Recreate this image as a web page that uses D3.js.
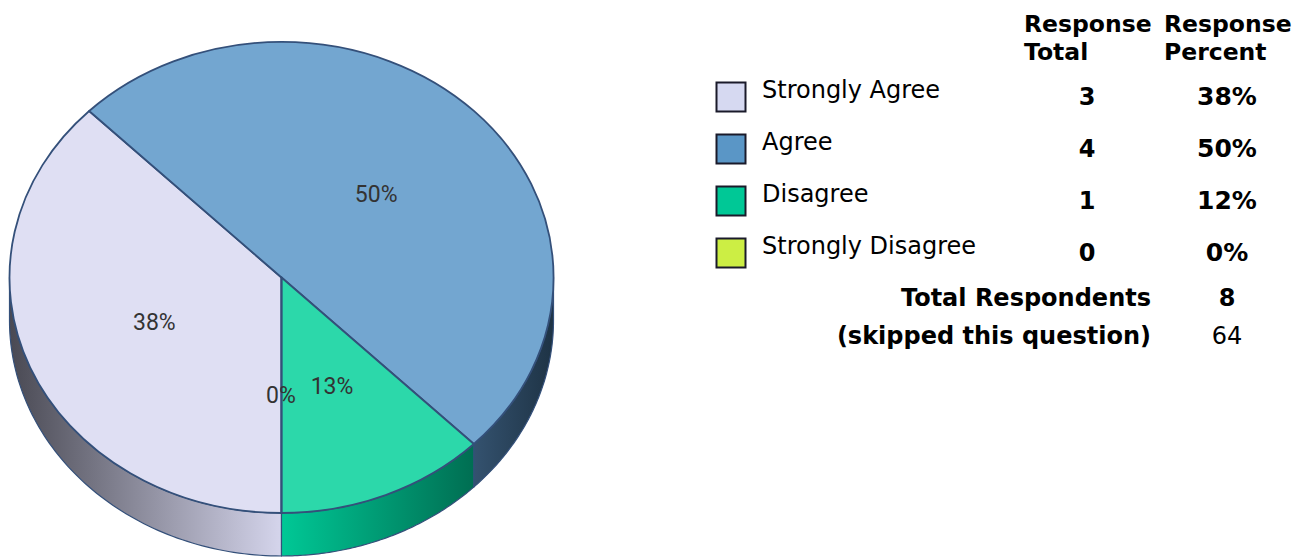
<!DOCTYPE html>
<html><head><meta charset="utf-8">
<script src="https://cdn.jsdelivr.net/npm/d3@7/dist/d3.min.js"></script>
<style>html,body{margin:0;padding:0;background:#fff;overflow:hidden}svg{display:block}</style>
</head><body><div id="c"></div>
<script>
const categories=["Strongly Agree","Agree","Disagree","Strongly Disagree"];
const responseTotals=[3,4,1,0];
const responsePercents=["38%","50%","12%","0%"];
const sliceValues=[37.5,50,12.5,0];
const sliceLabels=["38%","50%","13%","0%"];
const topColors=["#dfdff3","#73a6d0","#2cd8aa","#ccee44"];
const swatchColors=["#d6d9f1","#5a96c6","#00c896","#ccee44"];
const wallStops=[["#494953","#d5d5ec"],["#34526f","#1e3345"],["#00c896","#006e52"],["#ccee44","#ccee44"]];
const headerLines=[["Response","Total"],["Response","Percent"]];
const totalRespondents=8, skipped=64;

const W=1310,H=557,cx=281.5,cy=277.5,rx=272,ry=235.5,depth=43,edge="#34507a",U=1000;
const svg=d3.select("#c").append("svg").attr("width",W).attr("height",H);
const defs=svg.append("defs");
const px=d3.scaleLinear().domain([-1,1]).range([cx-rx,cx+rx]);
const py=d3.scaleLinear().domain([-1,1]).range([cy-ry,cy+ry]);
const pie=d3.pie().value(d=>d).sort(null).startAngle(Math.PI).endAngle(3*Math.PI);
const arcs=pie(sliceValues);
const arc=d3.arc().innerRadius(0).outerRadius(U);
const ax=a=>px(Math.sin(a)), ay=a=>py(-Math.cos(a));

const line=d3.line();
arcs.forEach((s,i)=>{
  if(s.value===0) return;
  const front=[];
  const add=(l,h)=>{const a=Math.max(l,Math.PI/2),b=Math.min(h,1.5*Math.PI);if(b>a)front.push([a,b]);};
  add(s.startAngle,s.endAngle);add(s.startAngle-2*Math.PI,s.endAngle-2*Math.PI);
  front.forEach(([a,b],j)=>{
    const n=80,ang=d3.range(n+1).map(k=>a+(b-a)*k/n);
    const x0=d3.min(ang,ax),x1=d3.max(ang,ax);
    const id=`g${i}_${j}`;
    const g=defs.append("linearGradient").attr("id",id).attr("gradientUnits","userSpaceOnUse")
      .attr("x1",x0).attr("x2",x1).attr("y1",0).attr("y2",0);
    g.append("stop").attr("offset",0).attr("stop-color",wallStops[i][0]);
    g.append("stop").attr("offset",1).attr("stop-color",wallStops[i][1]);
    const pts=ang.map(t=>[ax(t),ay(t)]).concat(ang.slice().reverse().map(t=>[ax(t),ay(t)+depth]));
    svg.append("path").attr("d",line(pts)+"Z").attr("fill",`url(#${id})`)
      .attr("stroke",edge).attr("stroke-width",1.2).attr("stroke-linejoin","round");
  });
});
const topFace=svg.append("g").attr("transform",`translate(${cx},${cy}) scale(${rx/U},${ry/U})`);
topFace.selectAll("path").data(arcs).join("path").attr("d",arc)
  .attr("fill",(d,i)=>topColors[i]).attr("stroke",edge).attr("stroke-width",1.8)
  .attr("stroke-linejoin","round").attr("vector-effect","non-scaling-stroke");

const labelFont="Roboto, 'Liberation Sans', sans-serif";
arcs.forEach((s,i)=>{
  const m=(s.startAngle+s.endAngle)/2, k=0.5;
  const lx=s.value===0?ax(s.startAngle)-.5:px(Math.sin(m)*k)-1.5, ly=py(-Math.cos(m)*k)+1.5;
  svg.append("text").attr("x",lx).attr("y",ly).attr("text-anchor","middle")
    .attr("dominant-baseline","middle").attr("font-family",labelFont).attr("font-size",23)
    .attr("fill","#333").text(sliceLabels[i]);
});

const tf="'DejaVu Sans', Verdana, sans-serif";
const T=(x,y,t,a,b,fs)=>svg.append("text").attr("x",x).attr("y",y).attr("text-anchor",a||"start")
  .attr("font-family",tf).attr("font-size",fs||24).attr("font-weight",b?"bold":"normal").attr("fill","#000").text(t);
headerLines.forEach((l,i)=>l.forEach((t,j)=>T([1024,1164][i],32+j*28,t,"start",true,23.5)));
const rowY=d3.scaleLinear().domain([0,1]).range([97,149]);
categories.forEach((c,i)=>{
  const y=rowY(i);
  svg.append("rect").attr("x",716.5).attr("y",y-14.5).attr("width",29).attr("height",29)
    .attr("fill",swatchColors[i]).attr("stroke","#1a1a2a").attr("stroke-width",2);
  T(762,y+1,c,"start",false,24);
  T(1087,y+8,responseTotals[i],"middle",true);
  T(1227,y+8,responsePercents[i],"middle",true,25);
});
T(1151,306,"Total Respondents","end",true);
T(1227,306,totalRespondents,"middle",true);
T(1151,344,"(skipped this question)","end",true);
T(1227,344,skipped,"middle",false);
</script></body></html>
